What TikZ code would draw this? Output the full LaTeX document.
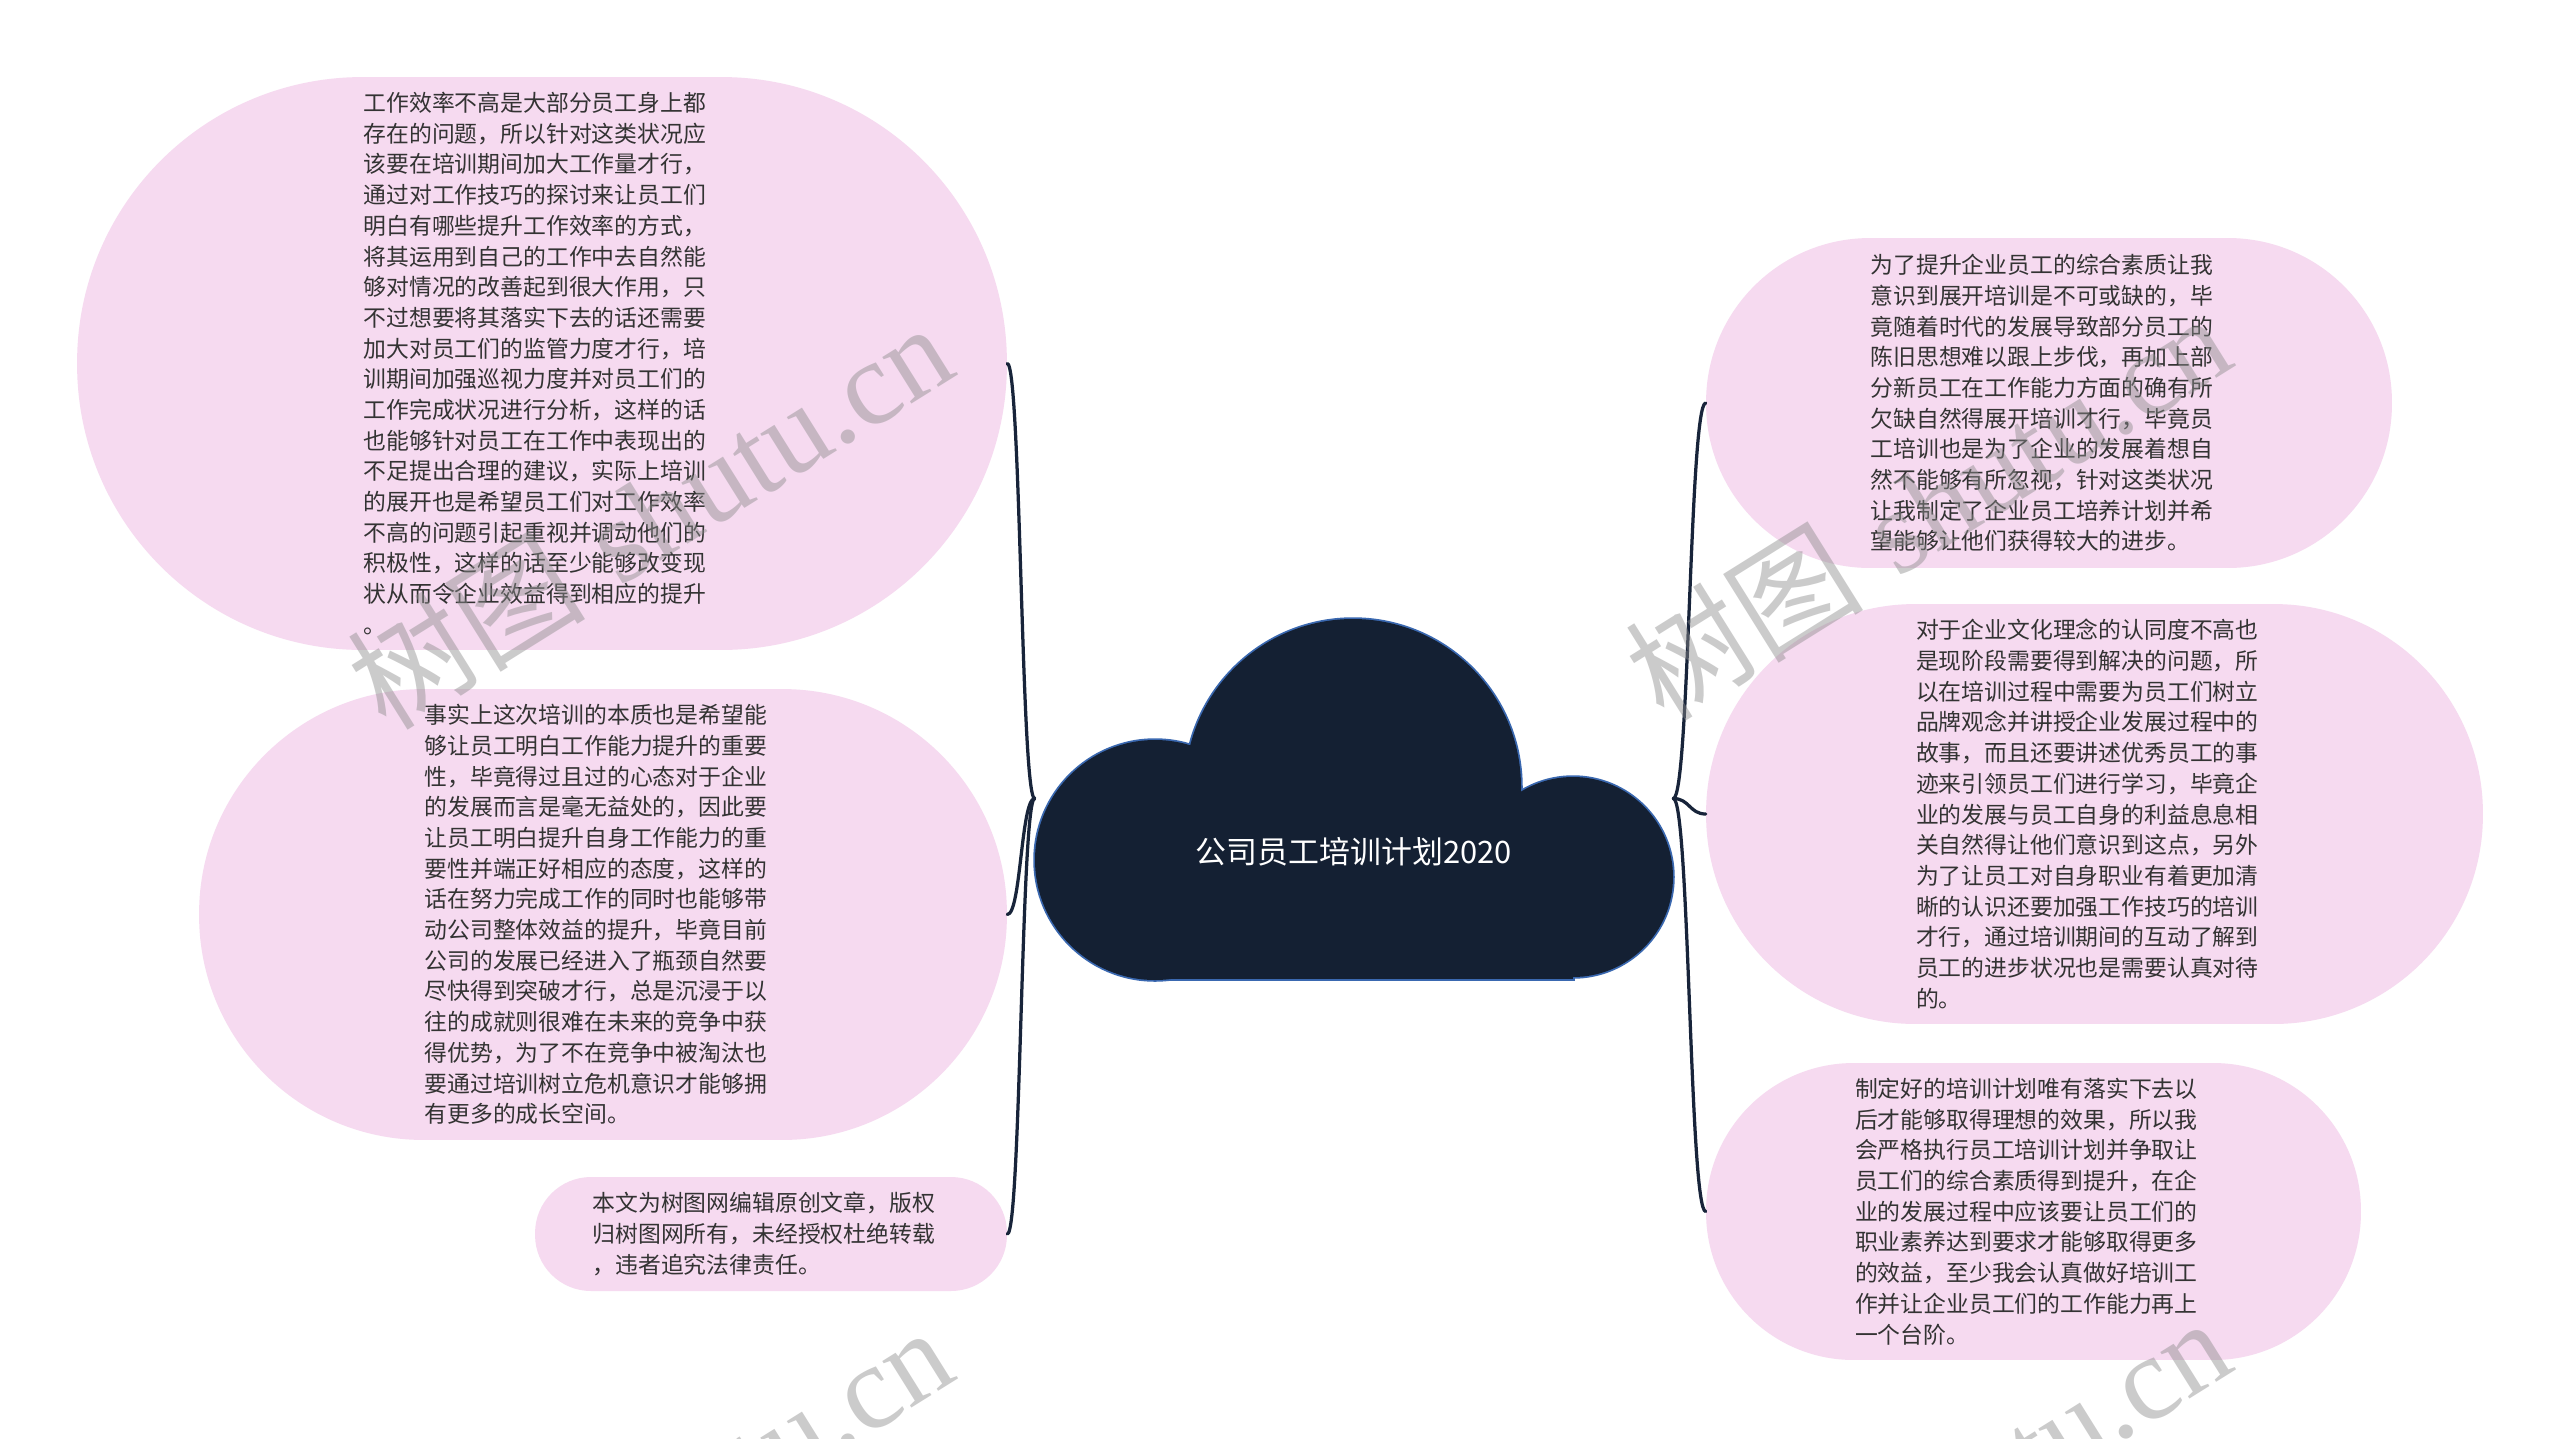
\documentclass[tikz,border=0pt]{standalone}
\usepackage{fontspec}
\newfontfamily\cjk{Noto Sans CJK SC}
\newfontfamily\wmserif{Liberation Serif}
\usepackage{xcolor}
\usepackage{tikz}
\usetikzlibrary{calc}

\definecolor{bubblepink}{HTML}{F6DAF0}
\definecolor{cloudnavy}{HTML}{142033}
\definecolor{cloudedge}{HTML}{3A68B0}
\definecolor{linknavy}{HTML}{18243A}
\definecolor{bodytext}{HTML}{333333}
\definecolor{wmgray}{RGB}{140,140,140}

\begin{document}
\begin{tikzpicture}[x=0.02cm, y=-0.02cm,
  bubble/.style={fill=bubblepink, inner sep=0pt, align=left, text=bodytext,
    text width=7.14cm, font=\cjk\fontsize{13pt}{17.47pt}\selectfont},
  rootnode/.style={inner sep=0pt, minimum width=12.76cm, minimum height=7.26cm,
    text=white, font=\cjk\fontsize{17.6pt}{20pt}\selectfont},
  link/.style={draw=linknavy, line width=0.065cm, line cap=round},
  watermark/.style={rotate=32, text=wmgray, text opacity=0.45,
    font=\fontsize{68pt}{74pt}\selectfont}
]
  % Canvas
  \useasboundingbox (0,0) rectangle (2560,1438);
  \fill[white] (0,0) rectangle (2560,1438);

  % Cloud body: outline pass, then fill pass
  \foreach \cx/\cy/\r in {1155/860/120, 1353/787/168, 1573/877/100}
    \draw[cloudedge, line width=0.07cm] (\cx,\cy) circle[radius=\r];
  \draw[cloudedge, line width=0.07cm] (1155,800) rectangle (1573,979);
  \foreach \cx/\cy/\r in {1155/860/120, 1353/787/168, 1573/877/100}
    \fill[cloudnavy] (\cx,\cy) circle[radius=\r];
  \fill[cloudnavy] (1155,800) rectangle (1573,979);
  \node[rootnode] (root) at (1354,798.5)
    {\raisebox{-1.3cm}[0pt][0pt]{公司员工培训计划2020}};

  % Left bubbles
  \node[bubble, minimum width=18.6cm, minimum height=11.46cm,
    rounded corners=5.71cm] (efficiency) at (542,363.5) {%
    工作效率不高是大部分员工身上都\\
    存在的问题，所以针对这类状况应\\
    该要在培训期间加大工作量才行，\\
    通过对工作技巧的探讨来让员工们\\
    明白有哪些提升工作效率的方式，\\
    将其运用到自己的工作中去自然能\\
    够对情况的改善起到很大作用，只\\
    不过想要将其落实下去的话还需要\\
    加大对员工们的监管力度才行，培\\
    训期间加强巡视力度并对员工们的\\
    工作完成状况进行分析，这样的话\\
    也能够针对员工在工作中表现出的\\
    不足提出合理的建议，实际上培训\\
    的展开也是希望员工们对工作效率\\
    不高的问题引起重视并调动他们的\\
    积极性，这样的话至少能够改变现\\
    状从而令企业效益得到相应的提升\\
    。};
  \node[bubble, minimum width=16.16cm, minimum height=9.02cm,
    rounded corners=4.49cm] (essence) at (603,914.5) {%
    事实上这次培训的本质也是希望能\\
    够让员工明白工作能力提升的重要\\
    性，毕竟得过且过的心态对于企业\\
    的发展而言是毫无益处的，因此要\\
    让员工明白提升自身工作能力的重\\
    要性并端正好相应的态度，这样的\\
    话在努力完成工作的同时也能够带\\
    动公司整体效益的提升，毕竟目前\\
    公司的发展已经进入了瓶颈自然要\\
    尽快得到突破才行，总是沉浸于以\\
    往的成就则很难在未来的竞争中获\\
    得优势，为了不在竞争中被淘汰也\\
    要通过培训树立危机意识才能够拥\\
    有更多的成长空间。};
  \node[bubble, minimum width=9.44cm, minimum height=2.28cm,
    rounded corners=1.12cm] (copyright) at (771,1234) {%
    本文为树图网编辑原创文章，版权\\
    归树图网所有，未经授权杜绝转载\\
    ，违者追究法律责任。};

  % Right bubbles
  \node[bubble, minimum width=13.72cm, minimum height=6.6cm,
    rounded corners=3.28cm] (quality) at (2049,403) {%
    为了提升企业员工的综合素质让我\\
    意识到展开培训是不可或缺的，毕\\
    竟随着时代的发展导致部分员工的\\
    陈旧思想难以跟上步伐，再加上部\\
    分新员工在工作能力方面的确有所\\
    欠缺自然得展开培训才行，毕竟员\\
    工培训也是为了企业的发展着想自\\
    然不能够有所忽视，针对这类状况\\
    让我制定了企业员工培养计划并希\\
    望能够让他们获得较大的进步。};
  \node[bubble, minimum width=15.54cm, minimum height=8.4cm,
    rounded corners=4.18cm] (culture) at (2094.5,814) {%
    对于企业文化理念的认同度不高也\\
    是现阶段需要得到解决的问题，所\\
    以在培训过程中需要为员工们树立\\
    品牌观念并讲授企业发展过程中的\\
    故事，而且还要讲述优秀员工的事\\
    迹来引领员工们进行学习，毕竟企\\
    业的发展与员工自身的利益息息相\\
    关自然得让他们意识到这点，另外\\
    为了让员工对自身职业有着更加清\\
    晰的认识还要加强工作技巧的培训\\
    才行，通过培训期间的互动了解到\\
    员工的进步状况也是需要认真对待\\
    的。};
  \node[bubble, minimum width=13.1cm, minimum height=5.94cm,
    rounded corners=2.95cm] (execution) at (2033.5,1211.5) {%
    制定好的培训计划唯有落实下去以\\
    后才能够取得理想的效果，所以我\\
    会严格执行员工培训计划并争取让\\
    员工们的综合素质得到提升，在企\\
    业的发展过程中应该要让员工们的\\
    职业素养达到要求才能够取得更多\\
    的效益，至少我会认真做好培训工\\
    作并让企业员工们的工作能力再上\\
    一个台阶。};

  % Connectors
  \foreach \leaf in {efficiency, essence, copyright}
    \draw[link] (root.west)
      .. controls ($(root.west)!0.5!(root.west -| \leaf.east)$)
      and ($(\leaf.east)!0.5!(\leaf.east -| root.west)$) .. (\leaf.east);
  \foreach \leaf in {quality, culture, execution}
    \draw[link] (root.east)
      .. controls ($(root.east)!0.5!(root.east -| \leaf.west)$)
      and ($(\leaf.west)!0.5!(\leaf.west -| root.east)$) .. (\leaf.west);

  % Watermarks
  \begin{scope}
    \clip (0,0) rectangle (2560,1438);
    \foreach \wx/\wy [count=\k] in {649/515, 1927/506, 649/1519, 1927/1510}
      \node[watermark] (mark\k) at (\wx,\wy) {{\cjk 树图} {\wmserif shutu.cn}};
  \end{scope}
\end{tikzpicture}
\end{document}
